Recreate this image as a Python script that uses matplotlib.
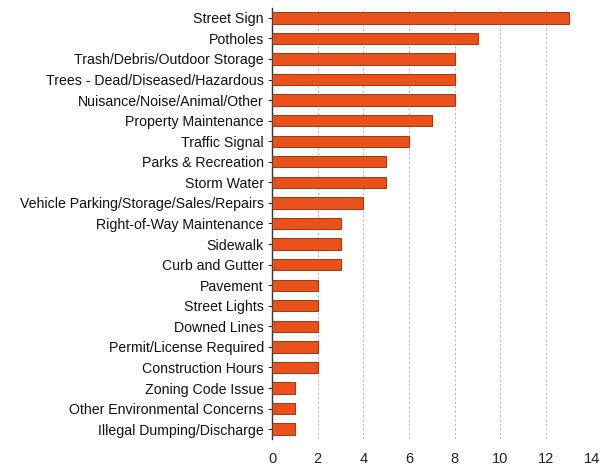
import matplotlib
matplotlib.use("Agg")
import matplotlib.pyplot as plt

categories = [
    "Street Sign", "Potholes", "Trash/Debris/Outdoor Storage",
    "Trees - Dead/Diseased/Hazardous", "Nuisance/Noise/Animal/Other",
    "Property Maintenance", "Traffic Signal", "Parks & Recreation",
    "Storm Water", "Vehicle Parking/Storage/Sales/Repairs",
    "Right-of-Way Maintenance", "Sidewalk", "Curb and Gutter",
    "Pavement", "Street Lights", "Downed Lines", "Permit/License Required",
    "Construction Hours", "Zoning Code Issue", "Other Environmental Concerns",
    "Illegal Dumping/Discharge",
]
values = [13, 9, 8, 8, 8, 7, 6, 5, 5, 4, 3, 3, 3, 2, 2, 2, 2, 2, 1, 1, 1]
xticks = [0, 2, 4, 6, 8, 10, 12, 14]

plt.rcParams['font.family'] = ['Liberation Sans', 'DejaVu Sans']

fig = plt.figure(figsize=(6.02, 4.73), dpi=100)
ax = fig.add_axes([0.452, 0.071, 0.532, 0.913])

ypos = list(range(len(categories)))
ax.barh(ypos, values, height=0.55, color="#E8521A", edgecolor="#8a2a08", linewidth=0.6, zorder=3)
ax.set_ylim(len(categories) - 0.5, -0.5)
ax.set_xlim(0, 14.03)
ax.set_xticks(xticks)
ax.set_xticklabels([str(t) for t in xticks], fontsize=10.5, color="#222222")
ax.set_yticks(ypos)
ax.set_yticklabels(categories, fontsize=10.2, color="#111111")
ax.tick_params(axis='x', length=0, pad=9)
ax.tick_params(axis='y', length=3, width=0.8, color="#333333", pad=3)
ax.xaxis.grid(True, color="#bbbbbb", linestyle=(0, (2, 2)), linewidth=0.8, zorder=0)
for s in ["top", "right", "bottom"]:
    ax.spines[s].set_visible(False)
ax.spines["left"].set_color("#333333")
ax.spines["left"].set_linewidth(1.0)

fig.savefig("out.png", dpi=100)
